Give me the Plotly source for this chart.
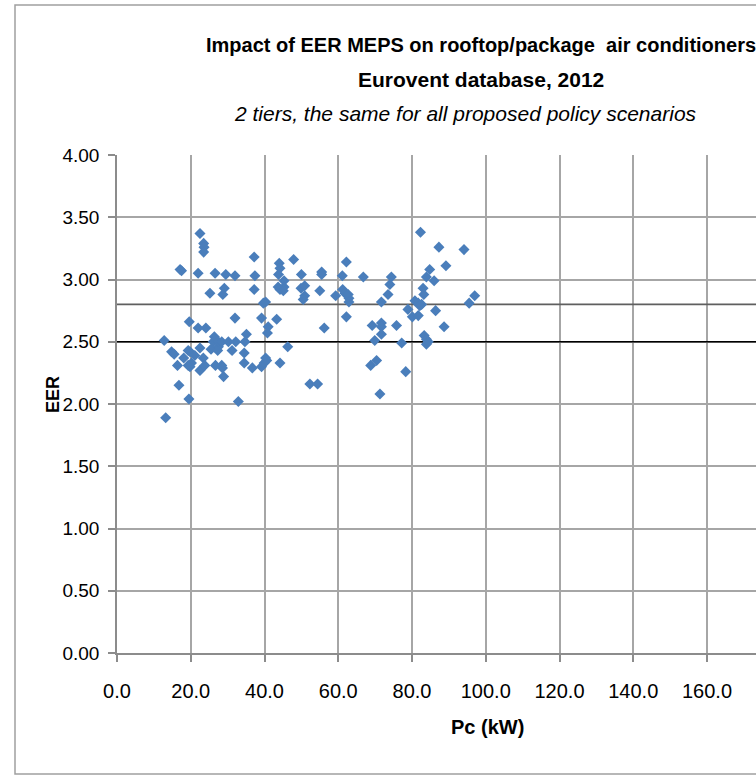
import plotly.graph_objects as go

# Capacity Pc (kW) and EER of the Eurovent rooftop/package units
pc_kw = [12.8, 13.2, 14.8, 15.5, 16.4, 16.8, 17.1, 17.5, 18.1, 19.3, 19.6, 19.8, 19.3, 19.8, 20.2, 19.5,
         21.1, 22.0, 22.5, 23.5, 23.6, 23.5, 22.0, 24.1, 22.5, 23.4, 22.5, 23.8, 25.2, 26.6, 26.4, 26.1,
         25.5, 27.5, 27.3, 27.5, 26.7, 28.4, 28.4, 28.6, 28.9, 29.5, 29.1, 28.7, 30.2, 31.2, 32.0, 32.0,
         32.2, 32.9, 34.5, 34.5, 34.7, 35.1, 36.7, 37.2, 37.4, 37.2, 39.2, 39.2, 39.9, 40.3, 40.6, 40.3,
         39.7, 41.0, 40.8, 43.3, 44.0, 44.2, 43.8, 45.3, 45.3, 43.7, 44.2, 45.1, 44.2, 46.3, 47.9, 50.0,
         49.9, 50.9, 50.9, 50.5, 52.3, 54.4, 55.0, 55.5, 55.5, 56.2, 59.3, 61.1, 62.2, 61.2, 61.8, 62.7,
         62.9, 62.9, 62.2, 66.8, 68.8, 70.4, 69.2, 69.9, 71.3, 71.7, 71.7, 71.7, 71.7, 73.5, 74.0, 74.4,
         75.8, 77.2, 78.3, 78.9, 80.1, 81.7, 80.8, 81.7, 82.6, 82.1, 82.3, 83.0, 83.2, 83.3, 83.9, 84.4,
         83.9, 83.9, 84.8, 86.0, 86.4, 87.3, 88.7, 89.2, 94.1, 95.5, 97.0]
eer = [2.51, 1.89, 2.42, 2.40, 2.31, 2.15, 3.08, 3.07, 2.37, 2.43, 2.66, 2.42, 2.31, 2.30, 2.33, 2.04,
       2.39, 3.05, 3.37, 3.29, 3.26, 3.22, 2.61, 2.61, 2.45, 2.37, 2.27, 2.31, 2.89, 3.05, 2.54, 2.50,
       2.44, 2.46, 2.43, 2.50, 2.31, 2.50, 2.31, 2.29, 2.22, 3.04, 2.93, 2.88, 2.50, 2.43, 3.03, 2.69,
       2.50, 2.02, 2.41, 2.33, 2.50, 2.56, 2.29, 3.18, 3.03, 2.92, 2.69, 2.30, 2.33, 2.37, 2.35, 2.82,
       2.81, 2.62, 2.57, 2.68, 3.13, 3.09, 3.04, 2.99, 2.94, 2.94, 2.92, 2.91, 2.33, 2.46, 3.16, 3.04,
       2.93, 2.95, 2.87, 2.84, 2.16, 2.16, 2.91, 3.06, 3.04, 2.61, 2.87, 3.03, 3.14, 2.92, 2.89, 2.88,
       2.85, 2.82, 2.70, 3.02, 2.31, 2.35, 2.63, 2.51, 2.08, 2.65, 2.62, 2.56, 2.82, 2.88, 2.96, 3.02,
       2.63, 2.49, 2.26, 2.76, 2.70, 2.71, 2.83, 2.81, 2.80, 2.79, 3.38, 2.93, 2.88, 2.55, 2.52, 2.50,
       2.48, 3.02, 3.08, 2.99, 2.75, 3.26, 2.62, 3.11, 3.24, 2.81, 2.87]

# MEPS tiers (EER)
tier_names = ["Tier 1", "Tier 2"]
tier_values = [2.50, 2.80]
tier_colors = ["#000000", "#5f5f5f"]
tier_span = [0, 200]

title_lines = ["Impact of EER MEPS on rooftop/package  air conditioners", "Eurovent database, 2012"]
subtitle = "2 tiers, the same for all proposed policy scenarios"

FONT = "Liberation Sans, Arial, sans-serif"

fig = go.Figure()
for name, val, col in zip(tier_names, tier_values, tier_colors):
    fig.add_trace(go.Scatter(x=tier_span, y=[val, val], mode="lines", name=name,
                             line=dict(color=col, width=1.6), hoverinfo="skip", showlegend=False))
fig.add_trace(go.Scatter(x=pc_kw, y=eer, mode="markers", name="EER",
                         marker=dict(symbol="diamond", size=8.5, color="#4A7EBB",
                                     line=dict(width=0)), showlegend=False))

# page margin removed via post_script, so figure coords == page coords
W, H = 756, 776
plot_left, plot_top, plot_bottom = 117, 155, 653
L = plot_left
T = plot_top
B = H - plot_bottom
R = 0
pw = W - L - R
ph = H - T - B
px_per_x = 3.6875
x_max = pw / px_per_x

def px_x(p):
    return (p - L) / pw

def px_y(p):
    return (H - B - p) / ph

fig.update_layout(
    width=W, height=H,
    margin=dict(l=L, r=R, t=T, b=B, pad=0),
    paper_bgcolor="white", plot_bgcolor="white",
    font=dict(family=FONT, size=19, color="#000000"),
    xaxis=dict(range=[0, x_max], tick0=0, dtick=20, tickformat=".1f",
               showgrid=True, gridcolor="#a6a6a6", gridwidth=1.6,
               showline=True, linecolor="#8c8c8c", linewidth=1.6,
               ticks="outside", ticklen=7, tickcolor="#8c8c8c", tickwidth=1.6,
               ticklabelstandoff=12, zeroline=False,
               tickfont=dict(family=FONT, size=20, color="#000000")),
    yaxis=dict(range=[0, 4], tick0=0, dtick=0.5, tickformat=".2f",
               showgrid=True, gridcolor="#a6a6a6", gridwidth=1.6,
               showline=True, linecolor="#8c8c8c", linewidth=1.6,
               ticks="outside", ticklen=7, tickcolor="#8c8c8c", tickwidth=1.6,
               ticklabelstandoff=5, zeroline=False,
               tickfont=dict(family=FONT, size=19, color="#000000")),
    annotations=[
        dict(text="<b>%s</b>" % title_lines[0], xref="paper", yref="paper", x=px_x(481), y=px_y(45),
             xanchor="center", yanchor="middle", showarrow=False, font=dict(family=FONT, size=20)),
        dict(text="<b>%s</b>" % title_lines[1], xref="paper", yref="paper", x=px_x(481), y=px_y(79),
             xanchor="center", yanchor="middle", showarrow=False, font=dict(family=FONT, size=21)),
        dict(text="<i>%s</i>" % subtitle, xref="paper", yref="paper", x=px_x(465), y=px_y(113),
             xanchor="center", yanchor="middle", showarrow=False, font=dict(family=FONT, size=21)),
        dict(text="<b>EER</b>", xref="paper", yref="paper", x=px_x(53), y=px_y(395), textangle=-90,
             xanchor="center", yanchor="middle", showarrow=False, font=dict(family=FONT, size=18)),
        dict(text="<b>Pc (kW)</b>", xref="paper", yref="paper", x=px_x(487), y=px_y(727),
             xanchor="center", yanchor="middle", showarrow=False, font=dict(family=FONT, size=20)),
    ],
    shapes=[
        dict(type="rect", xref="paper", yref="paper", x0=px_x(15), x1=px_x(900), y0=px_y(774), y1=px_y(5),
             line=dict(color="#a0a0a0", width=1.5), fillcolor="rgba(0,0,0,0)", layer="below"),
    ],
)

fig.write_html("out.html",
               config={"displayModeBar": False},
               post_script="document.body.style.margin='0';document.body.style.overflow='hidden';"
                           "document.documentElement.style.overflow='hidden';")
